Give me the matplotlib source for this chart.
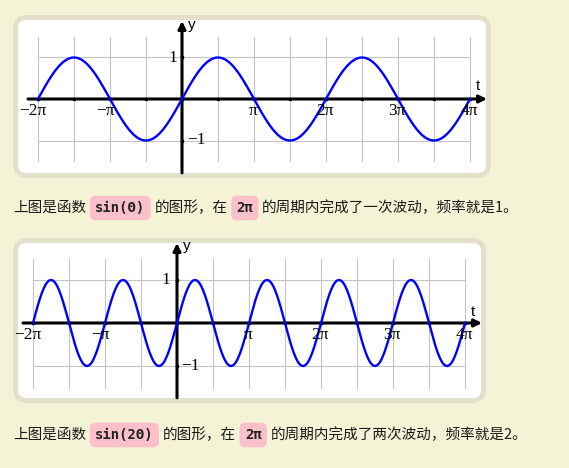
import numpy as np
import matplotlib
matplotlib.use('Agg')
import matplotlib.pyplot as plt
from matplotlib.patches import FancyBboxPatch

# data
freqs = [1, 2]
t_range = [-2, 4]                      # in multiples of pi
tick_mult = [-2, -1, 1, 2, 3, 4]
tick_labels = ['\u22122\u03c0', '\u2212\u03c0', '\u03c0', '2\u03c0', '3\u03c0', '4\u03c0']
y_ticks = [1, -1]
y_tick_labels = ['1', '\u22121']
captions = [
    [('上图是函数', False), ('sin(\u0398)', True), ('的图形，在', False), ('2\u03c0', True),
     ('的周期内完成了一次波动，频率就是1。', False)],
    [('上图是函数', False), ('sin(2\u0398)', True), ('的图形，在', False), ('2\u03c0', True),
     ('的周期内完成了两次波动，频率就是2。', False)],
]

W, H = 569, 468
bg = '#f5f3d6'
border = '#e2e0cb'
pink = '#fcc0ca'

fig = plt.figure(figsize=(W / 100, H / 100), dpi=100)
fig.patch.set_facecolor(bg)

# full-figure axes in pixel units for the boxes
base = fig.add_axes([0, 0, 1, 1])
base.set_xlim(0, W)
base.set_ylim(H, 0)
base.axis('off')

boxes = [(15.5, 17.5, 473, 158), (15.5, 240.5, 468, 160)]
for bx, by, bw, bh in boxes:
    base.add_patch(FancyBboxPatch((bx, by), bw, bh, boxstyle='round,pad=0,rounding_size=11',
                                  fc='white', ec=border, lw=3.6))

# panel geometry: pixel of origin, pixel scale
panels = [dict(x0=182, y0=99, sy=41.5, ya=(-1.78, 1.88), ylab_dx=(-9, 14), t_dy=13),
          dict(x0=177, y0=323, sy=43, ya=(-1.74, 1.86), ylab_dx=(-11, 13), t_dy=11)]
sx = 72 / np.pi
serif = 'Liberation Serif'

for f, p in zip(freqs, panels):
    xlim = (-7.3, 14.0)
    ylim = (-2.0, 2.1)
    left = p['x0'] + xlim[0] * sx
    right = p['x0'] + xlim[1] * sx
    top = p['y0'] - ylim[1] * p['sy']
    bottom = p['y0'] - ylim[0] * p['sy']
    ax = fig.add_axes([left / W, 1 - bottom / H, (right - left) / W, (bottom - top) / H])
    ax.set_xlim(xlim)
    ax.set_ylim(ylim)
    ax.axis('off')

    a, b = t_range[0] * np.pi, t_range[1] * np.pi
    # grid
    for k in range(t_range[0] * 2, t_range[1] * 2 + 1):
        ax.plot([k * np.pi / 2] * 2, [-1.5, 1.5], color='#c4c4c4', lw=0.8, zorder=1)
    for yv in [-1, 1]:
        ax.plot([a, b], [yv, yv], color='#c4c4c4', lw=0.8, zorder=1)

    # axes with arrows
    ax.annotate('', xy=(13.31, 0), xytext=(-6.72, 0),
                arrowprops=dict(arrowstyle='-|>', lw=2.2, color='black', mutation_scale=11,
                                shrinkA=0, shrinkB=0), zorder=3)
    ax.annotate('', xy=(0, p['ya'][1]), xytext=(0, p['ya'][0]),
                arrowprops=dict(arrowstyle='-|>', lw=2.2, color='black', mutation_scale=11,
                                shrinkA=0, shrinkB=0), zorder=3)
    ks = np.arange(t_range[0] * 2, t_range[1] * 2 + 1) * np.pi / 2
    ax.plot(ks, np.zeros_like(ks), 's', color='black', ms=2.1, zorder=4)
    ax.plot([0, 0], y_ticks, 's', color='black', ms=2.1, zorder=4)

    # curve
    t = np.linspace(a, b, 800)
    ax.plot(t, np.sin(f * t), color='#0000ff', lw=1.7, zorder=5)

    # labels
    for m, lab in zip(tick_mult, tick_labels):
        dx = -5 if m < 0 else -1
        ax.annotate(lab, (m * np.pi, 0), xytext=(dx * 0.72, -12 * 0.72), textcoords='offset points',
                    ha='center', va='center', fontsize=12.5, family=serif, zorder=6)
    for yv, lab, dx in zip(y_ticks, y_tick_labels, p['ylab_dx']):
        ax.annotate(lab, (0, yv), xytext=(dx * 0.72, 0), textcoords='offset points',
                    ha='center', va='center', fontsize=12.5, family=serif, zorder=6)
    ax.annotate('y', (0, 1.78), xytext=(10 * 0.72, 0), textcoords='offset points',
                ha='center', va='center', fontsize=11, family='Liberation Sans', zorder=6)
    ax.annotate('t', (12.9, 0), xytext=(0, p['t_dy'] * 0.72), textcoords='offset points',
                ha='center', va='center', fontsize=11, family='Liberation Sans', zorder=6)

# captions
renderer = fig.canvas.get_renderer()
for segs, yc in zip(captions, [208, 435]):
    x = 13
    prev_code = False
    for i, (txt, code) in enumerate(segs):
        if i > 0:
            x += 9 if (code or prev_code) else 0
        if code:
            tx = base.text(x, yc, txt, ha='left', va='center', fontsize=10,
                           family='DejaVu Sans Mono', color='#222222', weight='semibold',
                           bbox=dict(boxstyle='round,pad=0.38,rounding_size=0.4', fc=pink, ec='none'))
        else:
            tx = base.text(x, yc, txt, ha='left', va='center', fontsize=10.5,
                           family=['Noto Sans CJK SC', 'DejaVu Sans'], color='#1a1a1a')
        bb = tx.get_window_extent(renderer)
        x += bb.width
        prev_code = code

fig.savefig('out.png', dpi=100, facecolor=bg)
